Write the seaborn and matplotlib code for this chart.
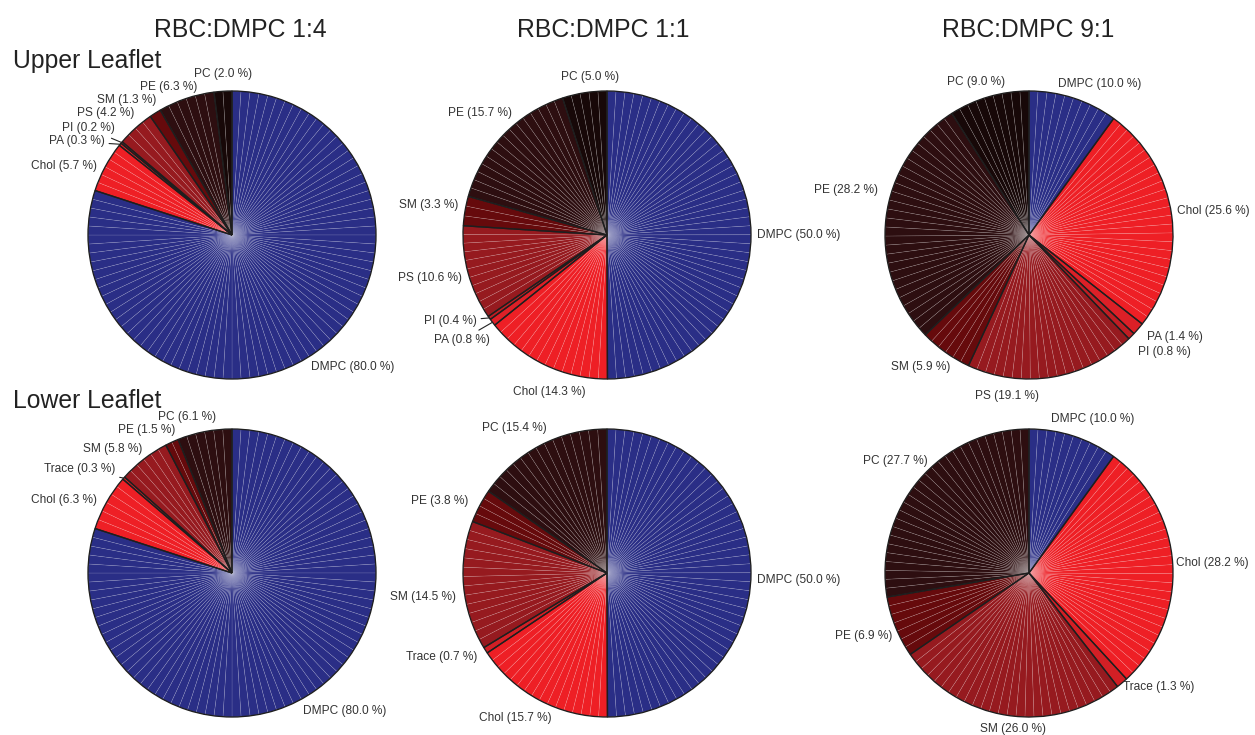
import numpy as np
import matplotlib
matplotlib.use("Agg")
import matplotlib.pyplot as plt
import seaborn as sns

sns.set_theme(style="white")
plt.rcParams['font.family'] = ['Liberation Sans', 'DejaVu Sans']

# ---- data -------------------------------------------------------------
column_titles = ["RBC:DMPC 1:4", "RBC:DMPC 1:1", "RBC:DMPC 9:1"]
row_titles = ["Upper Leaflet", "Lower Leaflet"]

upper_lipids = ["DMPC", "Chol", "PA", "PI", "PS", "SM", "PE", "PC"]
lower_lipids = ["DMPC", "Chol", "Trace", "SM", "PE", "PC"]

upper_1_4 = [80.0, 5.7, 0.3, 0.2, 4.2, 1.3, 6.3, 2.0]
upper_1_1 = [50.0, 14.3, 0.8, 0.4, 10.6, 3.3, 15.7, 5.0]
upper_9_1 = [10.0, 25.6, 1.4, 0.8, 19.1, 5.9, 28.2, 9.0]
lower_1_4 = [80.0, 6.3, 0.3, 5.8, 1.5, 6.1]
lower_1_1 = [50.0, 15.7, 0.7, 14.5, 3.8, 15.4]
lower_9_1 = [10.0, 28.2, 1.3, 26.0, 6.9, 27.7]

upper_colors = ["#2a2e86", "#ee1f25", "#dc2027", "#c01d23",
                "#961a1f", "#660a0c", "#2d0e10", "#170808"]
lower_colors = ["#2a2e86", "#ee1f25", "#d21f25", "#961a1f",
                "#660a0c", "#2d0e10"]

# ---- layout -----------------------------------------------------------
W, H, DPI = 1255, 735, 100
R_PX = 144.0          # pie radius in pixels
HALF = 1.6            # axes half-extent in pie radii
col_x = [232, 607, 1029]
row_y = [235, 573]

# label centres in units of pie radius, and whether a leader line is drawn
label_layout = {
    (0, 0): [(0.84, -0.92, False), (-1.17, 0.48, False), (-1.08, 0.65, True),
             (-1.00, 0.74, True), (-0.875, 0.85, False), (-0.73, 0.94, False),
             (-0.44, 1.03, False), (-0.06, 1.12, False)],
    (0, 1): [(1.33, 0.0, False), (-0.40, -1.09, False), (-1.01, -0.73, True),
             (-1.09, -0.60, True), (-1.23, -0.30, False), (-1.24, 0.21, False),
             (-0.88, 0.85, False), (-0.12, 1.10, False)],
    (0, 2): [(0.49, 1.05, False), (1.28, 0.17, False), (1.01, -0.71, False),
             (0.94, -0.81, False), (-0.15, -1.12, False), (-0.75, -0.92, False),
             (-1.27, 0.31, False), (-0.37, 1.06, False)],
    (1, 0): [(0.78, -0.96, False), (-1.17, 0.51, False), (-1.06, 0.72, True),
             (-0.83, 0.86, False), (-0.59, 0.99, False), (-0.31, 1.08, False)],
    (1, 1): [(1.33, -0.05, False), (-0.64, -1.01, False), (-1.15, -0.58, False),
             (-1.28, -0.17, False), (-1.16, 0.50, False), (-0.64, 1.01, False)],
    (1, 2): [(0.44, 1.07, False), (1.27, 0.07, False), (0.90, -0.79, False),
             (-0.11, -1.08, False), (-1.15, -0.44, False), (-0.93, 0.78, False)],
}

panels = {
    (0, 0): (upper_lipids, upper_1_4, upper_colors),
    (0, 1): (upper_lipids, upper_1_1, upper_colors),
    (0, 2): (upper_lipids, upper_9_1, upper_colors),
    (1, 0): (lower_lipids, lower_1_4, lower_colors),
    (1, 1): (lower_lipids, lower_1_1, lower_colors),
    (1, 2): (lower_lipids, lower_9_1, lower_colors),
}

fig = plt.figure(figsize=(W / DPI, H / DPI), dpi=DPI)
fig.patch.set_facecolor("white")

label_color = "#333333"
title_color = "#222222"

for (r, c), (names, values, colors) in panels.items():
    cx, cy = col_x[c], row_y[r]
    half_px = HALF * R_PX
    ax = fig.add_axes([(cx - half_px) / W, (H - cy - half_px) / H,
                       2 * half_px / W, 2 * half_px / H])

    # fine radial texture: each lipid slice split into ~1 % sub-slices
    sub_vals, sub_cols = [], []
    for v, col in zip(values, colors):
        n = max(1, int(round(v)))
        sub_vals += [v / n] * n
        sub_cols += [col] * n
    ax.pie(sub_vals, colors=sub_cols, startangle=90, counterclock=False,
           radius=1.0,
           wedgeprops=dict(edgecolor=(1, 1, 1, 0.2), linewidth=0.4))

    # slice outlines
    wedges, _ = ax.pie(values, startangle=90, counterclock=False, radius=1.0,
                       wedgeprops=dict(facecolor="none", edgecolor="#1e1e1e",
                                       linewidth=0.95))

    for w, name, v, (lx, ly, leader) in zip(wedges, names, values,
                                            label_layout[(r, c)]):
        text = f"{name} ({v:.1f} %)"
        if leader:
            mid = np.deg2rad(0.5 * (w.theta1 + w.theta2))
            ax.annotate(text, xy=(np.cos(mid), np.sin(mid)), xytext=(lx, ly),
                        ha="center", va="center", fontsize=8.6,
                        color=label_color,
                        arrowprops=dict(arrowstyle="-", color="#222222",
                                        lw=0.8, shrinkA=1, shrinkB=0))
        else:
            ax.text(lx, ly, text, ha="center", va="center", fontsize=8.6,
                    color=label_color)

    ax.set_xlim(-HALF, HALF)
    ax.set_ylim(-HALF, HALF)
    ax.set_aspect("equal")
    ax.axis("off")

title_x = [240, 603, 1028]
for x, t in zip(title_x, column_titles):
    fig.text(x / W, 1 - 37 / H, t, ha="center", va="baseline",
             fontsize=17.8, color=title_color)

for y, t in zip([68, 408], row_titles):
    fig.text(13 / W, 1 - y / H, t, ha="left", va="baseline",
             fontsize=17.8, color=title_color)

fig.savefig("out.png", dpi=DPI, facecolor="white")
